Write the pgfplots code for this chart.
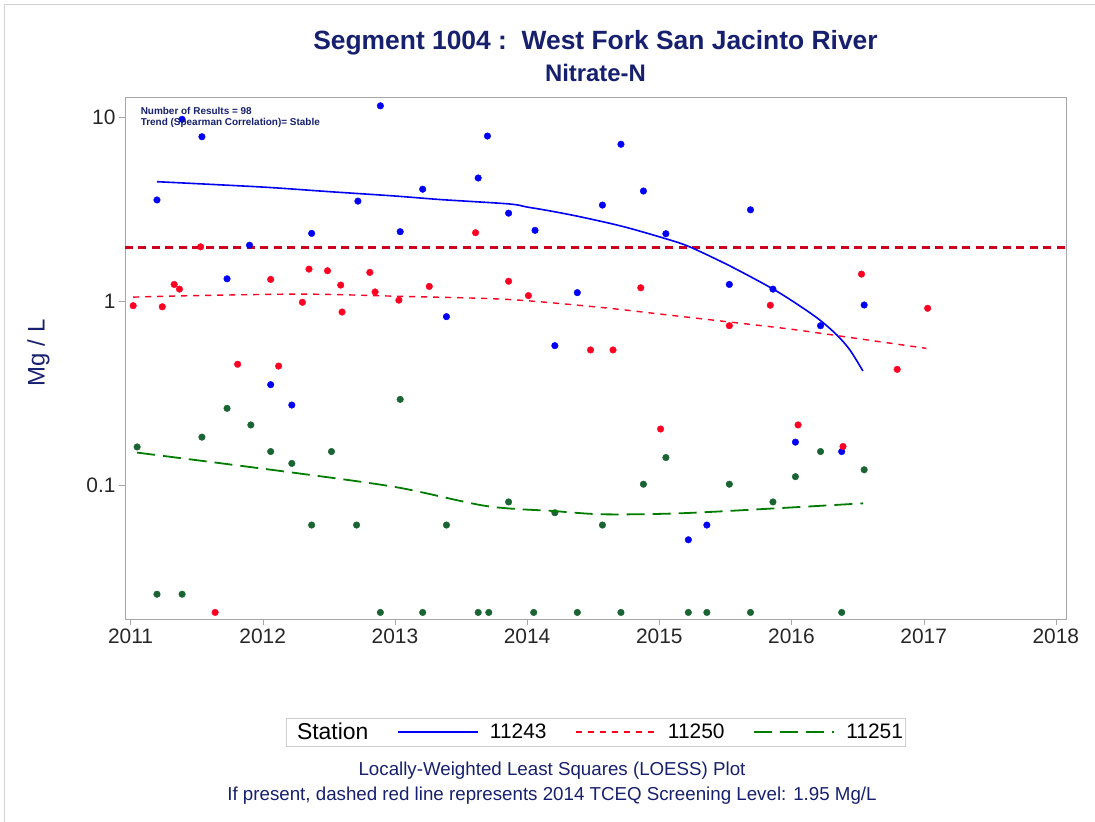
\documentclass[border=0pt]{standalone}
\usepackage{fontspec}
\setmainfont{Liberation Sans}
\usepackage{pgfplots}
\pgfplotsset{compat=1.18}

\definecolor{navy}{RGB}{22,32,110}
\definecolor{sblue}{RGB}{0,0,245}
\definecolor{sred}{RGB}{255,0,35}
\definecolor{sgreen}{RGB}{0,125,0}
\definecolor{sgreenmk}{RGB}{25,100,50}
\definecolor{slevel}{RGB}{205,0,30}

\begin{document}
\begin{tikzpicture}
\useasboundingbox (-125bp,-203bp) rectangle (970bp,619bp);
\draw[gray!35] (-121bp,-203bp) -- (-121bp,615bp) -- (970bp,615bp);
\begin{axis}[
    at={(0,0)}, anchor=south west,
    scale only axis, width=941bp, height=522bp,
    clip mode=individual,
    xmin=2010.958, xmax=2018.077,
    ymode=log, ymin=0.0187, ymax=12.84,
    xtick={2011,2012,2013,2014,2015,2016,2017,2018},
    xticklabels={2011,2012,2013,2014,2015,2016,2017,2018},
    ytick={0.1,1,10}, yticklabels={0.1,1,10},
    yminorticks=false,
    axis line style={gray!70},
    tick style={gray!70},
    tick align=outside, tick pos=left,
    major tick length=6bp,
    ticklabel style={font=\fontsize{21}{24}\selectfont, text=black!85},
    ylabel={Mg / L},
    ylabel style={font=\fontsize{24}{28}\selectfont, text=navy,
        at={(axis description cs:-0.092,0.51)}, anchor=center},
    legend style={at={(axis description cs:0.5,-0.2165)}, anchor=center,
        draw=gray!40, font=\fontsize{21}{24}\selectfont,
        inner xsep=0bp, inner ysep=3bp,
        /tikz/every odd column/.append style={column sep=9bp},
        /tikz/every even column/.append style={column sep=27bp}},
    legend columns=4,
    legend cell align=left,
    legend image code/.code={\draw[#1] (0bp,0bp) -- (80bp,0bp);},
]
\addlegendimage{empty legend}
\addlegendentry{\fontsize{23}{26}\selectfont Station}

% screening level
\addplot[slevel, line width=3.2bp, dash pattern=on 8bp off 5.5bp, forget plot]
  coordinates {(2010.958,1.95) (2018.077,1.95)};

% station 11243
\addplot[only marks, mark=*, mark size=3.3bp, sblue, forget plot] coordinates {
(2011.20,3.54) (2011.39,9.71) (2011.54,7.81) (2011.73,1.32) (2011.90,2.01)
(2012.06,0.351) (2012.22,0.272) (2012.37,2.33) (2012.72,3.49) (2012.89,11.5)
(2013.04,2.38) (2013.21,4.05) (2013.39,0.822) (2013.63,4.66) (2013.70,7.88)
(2013.86,3.00) (2014.06,2.42) (2014.21,0.572) (2014.38,1.11) (2014.57,3.32)
(2014.71,7.11) (2014.88,3.96) (2015.05,2.32) (2015.22,0.0504) (2015.36,0.0606)
(2015.53,1.23) (2015.69,3.13) (2015.86,1.16) (2016.03,0.171) (2016.22,0.734)
(2016.38,0.152) (2016.55,0.951)};

% station 11250
\addplot[only marks, mark=*, mark size=3.3bp, sred, forget plot] coordinates {
(2011.02,0.943) (2011.24,0.930) (2011.33,1.23) (2011.37,1.16) (2011.53,1.97)
(2011.64,0.0203) (2011.81,0.453) (2012.06,1.31) (2012.12,0.443) (2012.30,0.984)
(2012.35,1.49) (2012.49,1.46) (2012.59,1.22) (2012.60,0.871) (2012.81,1.43)
(2012.85,1.12) (2013.03,1.01) (2013.26,1.20) (2013.61,2.35) (2013.86,1.28)
(2014.01,1.07) (2014.48,0.542) (2014.65,0.542) (2014.86,1.18) (2015.01,0.2015)
(2015.53,0.734) (2015.84,0.948) (2016.05,0.212) (2016.39,0.162) (2016.53,1.40)
(2016.80,0.425) (2017.03,0.913)};

% station 11251
\addplot[only marks, mark=*, mark size=3.3bp, sgreenmk, forget plot] coordinates {
(2011.05,0.161) (2011.20,0.0255) (2011.39,0.0255) (2011.54,0.182) (2011.73,0.261)
(2011.91,0.212) (2012.06,0.152) (2012.22,0.131) (2012.37,0.0606) (2012.52,0.152)
(2012.71,0.0606) (2012.89,0.0203) (2013.04,0.292) (2013.21,0.0203) (2013.39,0.0606)
(2013.63,0.0203) (2013.71,0.0203) (2013.86,0.0809) (2014.05,0.0203) (2014.21,0.0707)
(2014.38,0.0203) (2014.57,0.0606) (2014.71,0.0203) (2014.88,0.101) (2015.05,0.141)
(2015.22,0.0203) (2015.36,0.0203) (2015.53,0.101) (2015.69,0.0203) (2015.86,0.0809)
(2016.03,0.111) (2016.22,0.152) (2016.38,0.0203) (2016.55,0.121)};

% LOESS fits
\addplot[sblue, line width=1.6bp, smooth, tension=0.5] coordinates {
(2011.20,4.45) (2012.00,4.16) (2012.50,3.93) (2013.00,3.72) (2013.34,3.56)
(2013.86,3.37) (2014.00,3.24) (2014.17,3.09) (2014.40,2.87) (2014.725,2.54)
(2015.058,2.17) (2015.232,1.966) (2015.535,1.55) (2015.86,1.162) (2016.064,0.939)
(2016.215,0.788) (2016.344,0.653) (2016.442,0.542) (2016.54,0.417)};
\addlegendentry{11243}
\addplot[sred, line width=1.4bp, dash pattern=on 6bp off 6bp, smooth] coordinates {
(2011.02,1.05) (2011.50,1.07) (2012.31,1.09) (2013.04,1.06) (2013.85,1.02)
(2014.55,0.924) (2015.00,0.85) (2015.51,0.772) (2016.00,0.702) (2016.50,0.625)
(2017.02,0.553)};
\addlegendentry{11250}
\addplot[sgreen, line width=1.8bp, dash pattern=on 18bp off 8bp, smooth] coordinates {
(2011.05,0.150) (2012.18,0.118) (2013.01,0.0973) (2013.69,0.0769) (2014.20,0.0722)
(2014.58,0.0693) (2015.16,0.0702) (2015.91,0.0749) (2016.54,0.0795)};
\addlegendentry{11251}

\node[anchor=west, text=navy, font=\bfseries\fontsize{10}{12}\selectfont]
  at (axis description cs:0.013,0.973) {Number of Results = 98};
\node[anchor=west, text=navy, font=\bfseries\fontsize{10}{12}\selectfont]
  at (axis description cs:0.013,0.950) {Trend (Spearman Correlation)= Stable};

\node[text=navy, font=\bfseries\fontsize{26.5}{31}\selectfont]
  at (axis description cs:0.5,1.104) {Segment 1004 :\ \ West Fork San Jacinto River};
\node[text=navy, font=\bfseries\fontsize{24}{28}\selectfont]
  at (axis description cs:0.5,1.047) {Nitrate-N};

\node[text=navy, font=\fontsize{18.8}{22}\selectfont]
  at (axis description cs:0.4538,-0.291) {Locally-Weighted Least Squares (LOESS) Plot};
\node[text=navy, font=\fontsize{18.8}{22}\selectfont]
  at (axis description cs:0.4538,-0.339) {If present, dashed red line represents 2014 TCEQ Screening Level: 1.95 Mg/L};
\end{axis}
\end{tikzpicture}
\end{document}
